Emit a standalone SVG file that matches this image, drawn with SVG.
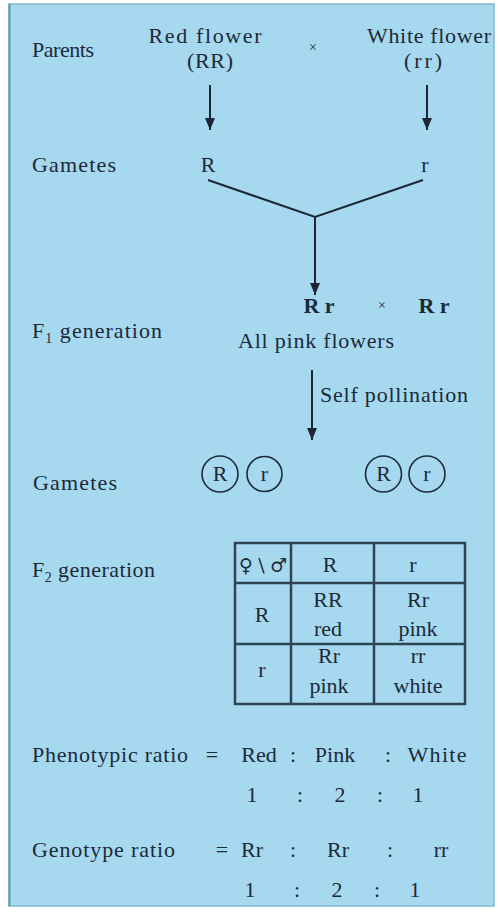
<svg xmlns="http://www.w3.org/2000/svg" width="498" height="913" viewBox="0 0 498 913">
<defs>
<marker id="ah" markerWidth="12" markerHeight="10" refX="12" refY="5" orient="auto" markerUnits="userSpaceOnUse" viewBox="0 0 12 10">
<path d="M0,0 L12,5 L0,10 Z" fill="#1c2733"/>
</marker>
</defs>
<rect x="0" y="0" width="498" height="913" fill="#ffffff"/>
<rect x="9" y="4" width="485" height="902" fill="#a6d8f0" stroke="#7fb9cc" stroke-width="1.5"/>
<line x1="9.5" y1="4" x2="9.5" y2="906" stroke="#5d9aaa" stroke-width="2"/>
<g font-family="Liberation Serif, serif" font-size="22" fill="#1c2a38">
<g id="parents-label"><text x="32" y="57" font-family="Liberation Serif, serif" textLength="62">Parents</text></g>
<g id="red-parent" text-anchor="middle"><text x="205" y="43" font-family="Liberation Serif, serif" textLength="113">Red flower</text><text x="210" y="68" font-family="Liberation Serif, serif" textLength="46">(RR)</text></g>
<g id="cross1"><text text-anchor="middle" font-family="Liberation Serif, serif" font-size="14" x="313" y="52">&#215;</text></g>
<g id="white-parent" text-anchor="middle"><text x="429" y="43" font-family="Liberation Serif, serif" textLength="124">White flower</text><text x="423" y="68" font-family="Liberation Serif, serif" textLength="38">(rr)</text></g>

<g id="gametes1-label"><text x="32" y="172" font-family="Liberation Serif, serif" textLength="84">Gametes</text></g>
<g id="gamete-R"><text text-anchor="middle" font-family="Liberation Serif, serif" x="208" y="172">R</text></g>
<g id="gamete-r"><text text-anchor="middle" font-family="Liberation Serif, serif" x="425" y="172">r</text></g>

<g id="f1-label"><text x="32" y="338" font-family="Liberation Serif, serif" textLength="130">F<tspan font-size="14" dy="5">1</tspan><tspan dy="-5"> generation</tspan></text></g>
<g id="f1-cross" text-anchor="middle"><text font-weight="bold" font-family="Liberation Serif, serif" x="319" y="313">R r</text><text font-size="14" font-family="Liberation Serif, serif" x="382" y="310">&#215;</text><text font-weight="bold" font-family="Liberation Serif, serif" x="434" y="313">R r</text></g>
<g id="f1-pheno"><text text-anchor="middle" font-family="Liberation Serif, serif" x="316" y="348" textLength="156">All pink flowers</text></g>
<g id="self-label"><text x="320" y="402" font-family="Liberation Serif, serif" textLength="148">Self pollination</text></g>

<g id="gametes2-label"><text x="33" y="490" font-family="Liberation Serif, serif" textLength="84">Gametes</text></g>
<g id="gametes2" text-anchor="middle">
<g stroke="#1c2a38" stroke-width="1.6" fill="none">
<circle cx="220" cy="474" r="18"/>
<circle cx="264.5" cy="474" r="17.5"/>
<circle cx="383.5" cy="474" r="18"/>
<circle cx="427" cy="474" r="18"/>
</g>
<text x="220" y="481" font-family="Liberation Serif, serif">R</text>
<text x="264.5" y="481" font-family="Liberation Serif, serif">r</text>
<text x="383.5" y="481" font-family="Liberation Serif, serif">R</text>
<text x="427" y="481" font-family="Liberation Serif, serif">r</text>
</g>

<g id="f2-label"><text x="32" y="577" font-family="Liberation Serif, serif" textLength="123">F<tspan font-size="14" dy="5">2</tspan><tspan dy="-5"> generation</tspan></text></g>

<g id="punnett" text-anchor="middle">
<g stroke="#2e4452" stroke-width="2.5" fill="none">
<rect x="235" y="543" width="230" height="161"/>
<line x1="291" y1="543" x2="291" y2="704"/>
<line x1="374" y1="543" x2="374" y2="704"/>
<line x1="235" y1="583" x2="465" y2="583"/>
<line x1="235" y1="644" x2="465" y2="644"/>
</g>
<text x="263" y="572" font-family="DejaVu Serif, serif" font-size="19" textLength="48">&#9792;\&#9794;</text>
<text x="330" y="572" font-family="Liberation Serif, serif">R</text>
<text x="413" y="572" font-family="Liberation Serif, serif">r</text>
<text x="262" y="622" font-family="Liberation Serif, serif">R</text>
<text x="328" y="607" font-family="Liberation Serif, serif">RR</text><text x="328" y="636" font-family="Liberation Serif, serif">red</text>
<text x="418" y="607" font-family="Liberation Serif, serif">Rr</text><text x="418" y="636" font-family="Liberation Serif, serif">pink</text>
<text x="262" y="677" font-family="Liberation Serif, serif">r</text>
<text x="329" y="663" font-family="Liberation Serif, serif">Rr</text><text x="329" y="693" font-family="Liberation Serif, serif">pink</text>
<text x="418" y="663" font-family="Liberation Serif, serif">rr</text><text x="418" y="693" font-family="Liberation Serif, serif">white</text>
</g>

<g id="phenotypic-ratio">
<text x="32" y="762" font-family="Liberation Serif, serif" textLength="156">Phenotypic ratio</text>
<g text-anchor="middle">
<text x="212" y="762" font-family="Liberation Serif, serif">=</text>
<text x="259" y="762" font-family="Liberation Serif, serif">Red</text>
<text x="293" y="762" font-family="Liberation Serif, serif">:</text>
<text x="335" y="762" font-family="Liberation Serif, serif">Pink</text>
<text x="388" y="762" font-family="Liberation Serif, serif">:</text>
<text x="437" y="762" font-family="Liberation Serif, serif" textLength="59">White</text>
<text x="252" y="802" font-family="Liberation Serif, serif">1</text>
<text x="300" y="802" font-family="Liberation Serif, serif">:</text>
<text x="340" y="802" font-family="Liberation Serif, serif">2</text>
<text x="380" y="802" font-family="Liberation Serif, serif">:</text>
<text x="418" y="802" font-family="Liberation Serif, serif">1</text>
</g>
</g>

<g id="genotype-ratio">
<text x="32" y="857" font-family="Liberation Serif, serif" textLength="143">Genotype ratio</text>
<g text-anchor="middle">
<text x="222" y="857" font-family="Liberation Serif, serif">=</text>
<text x="252" y="857" font-family="Liberation Serif, serif">Rr</text>
<text x="293" y="857" font-family="Liberation Serif, serif">:</text>
<text x="338" y="857" font-family="Liberation Serif, serif">Rr</text>
<text x="390" y="857" font-family="Liberation Serif, serif">:</text>
<text x="441" y="857" font-family="Liberation Serif, serif">rr</text>
<text x="250" y="897" font-family="Liberation Serif, serif">1</text>
<text x="297" y="897" font-family="Liberation Serif, serif">:</text>
<text x="337" y="897" font-family="Liberation Serif, serif">2</text>
<text x="377" y="897" font-family="Liberation Serif, serif">:</text>
<text x="415" y="897" font-family="Liberation Serif, serif">1</text>
</g>
</g>
</g>
<g id="connectors" stroke="#1c2733" stroke-width="2" fill="none">
<line x1="210" y1="85" x2="210" y2="130" marker-end="url(#ah)"/>
<line x1="427" y1="85" x2="427" y2="130" marker-end="url(#ah)"/>
<polyline points="208,180 315,217 423,180"/>
<line x1="315" y1="217" x2="315" y2="295" marker-end="url(#ah)"/>
<line x1="312" y1="370" x2="312" y2="440" marker-end="url(#ah)"/>
</g>
</svg>
